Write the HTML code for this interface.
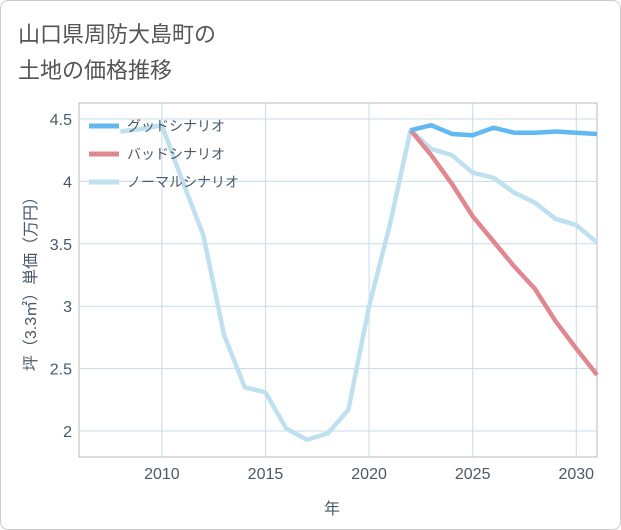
<!DOCTYPE html>
<html><head><meta charset="utf-8"><style>
body{margin:0;background:#fff;font-family:"Liberation Sans","Noto Sans CJK JP",sans-serif;}
#card{position:absolute;left:0;top:0;width:619px;height:528px;border:1px solid #ccc;border-radius:8px;background:#fff;}
</style></head><body>
<div id="card"></div>
<svg id="c" width="621" height="530" style="position:absolute;left:0;top:0">
<text x="18" y="42" font-size="22" fill="#555">山口県周防大島町の</text>
<text x="18" y="78" font-size="22" fill="#555">土地の価格推移</text>
<g id="grid"></g><g id="lines"></g><g id="legend"></g>
<text x="332" y="514" font-size="16" fill="#4a5968" text-anchor="middle">年</text>
<text transform="translate(36,280) rotate(-90)" font-size="16" fill="#4a5968" text-anchor="middle">坪（3.3㎡）単価（万円）</text>
</svg>
<script>
const years=[2008,2009,2010,2011,2012,2013,2014,2015,2016,2017,2018,2019,2020,2021,2022,2023,2024,2025,2026,2027,2028,2029,2030,2031];
const normal=[4.40,4.42,4.45,4.0,3.57,2.77,2.35,2.31,2.02,1.93,1.98,2.17,3.0,3.65,4.41,4.26,4.21,4.07,4.03,3.91,3.83,3.70,3.65,3.51];
const futureYears=[2022,2023,2024,2025,2026,2027,2028,2029,2030,2031];
const good=[4.41,4.45,4.38,4.37,4.43,4.39,4.39,4.40,4.39,4.38];
const bad=[4.41,4.21,3.98,3.72,3.52,3.32,3.14,2.88,2.66,2.45];
const xTicks=[2010,2015,2020,2025,2030];
const yTicks=[2,2.5,3,3.5,4,4.5];
const L=79,R=597,T=103,B=457;
const x=v=>L+(v-2006)*(R-L)/25;
const y=v=>431-(v-2)*124.8;
const NS="http://www.w3.org/2000/svg";
function mk(tag,a,parent){const e=document.createElementNS(NS,tag);for(const k in a)e.setAttribute(k,a[k]);parent.appendChild(e);return e;}
const g=document.getElementById('grid');
xTicks.forEach(t=>{
 const l=mk('line',{x1:x(t),x2:x(t),y1:T,y2:B,stroke:'#c5dbea','stroke-width':1},g);
 
 
 const tx=mk('text',{x:x(t),y:479,'font-size':16,fill:'#4a5968','text-anchor':'middle'},g);tx.textContent=t;
 
 
});
yTicks.forEach(t=>{
 const l=mk('line',{x1:L,x2:R,y1:y(t),y2:y(t),stroke:'#c5dbea','stroke-width':1},g);
 
 
 const tx=mk('text',{x:72,y:y(t)+6,'font-size':16,fill:'#4a5968','text-anchor':'end'},g);tx.textContent=t;
 
 
});
const fr=mk('rect',{x:L,y:T,width:R-L,height:B-T,fill:'none',stroke:'#bbb','stroke-width':1},g);


const ln=document.getElementById('lines');
function line(xs,vs,col,name){const p=mk('polyline',{points:xs.map((t,i)=>x(t)+','+y(vs[i])).join(' '),fill:'none',stroke:col,'stroke-width':4.5,'stroke-linejoin':'round'},ln);
 
 }
line(years,normal,'#bfe0ee','normal-scenario-line');
line(futureYears,bad,'#e0878f','bad-scenario-line');
line(futureYears,good,'#62b8f0','good-scenario-line');
const lg=document.getElementById('legend');
[['グッドシナリオ','#62b8f0'],['バッドシナリオ','#e0878f'],['ノーマルシナリオ','#bfe0ee']].forEach((d,i)=>{
 const yy=126+i*28;
 const s=mk('line',{x1:89,x2:119,y1:yy,y2:yy,stroke:d[1],'stroke-width':5},lg);
 
 
 const t=mk('text',{x:127,y:yy+5,'font-size':14,fill:'#4a5968'},lg);t.textContent=d[0];
 
 
});
</script>
</body></html>
